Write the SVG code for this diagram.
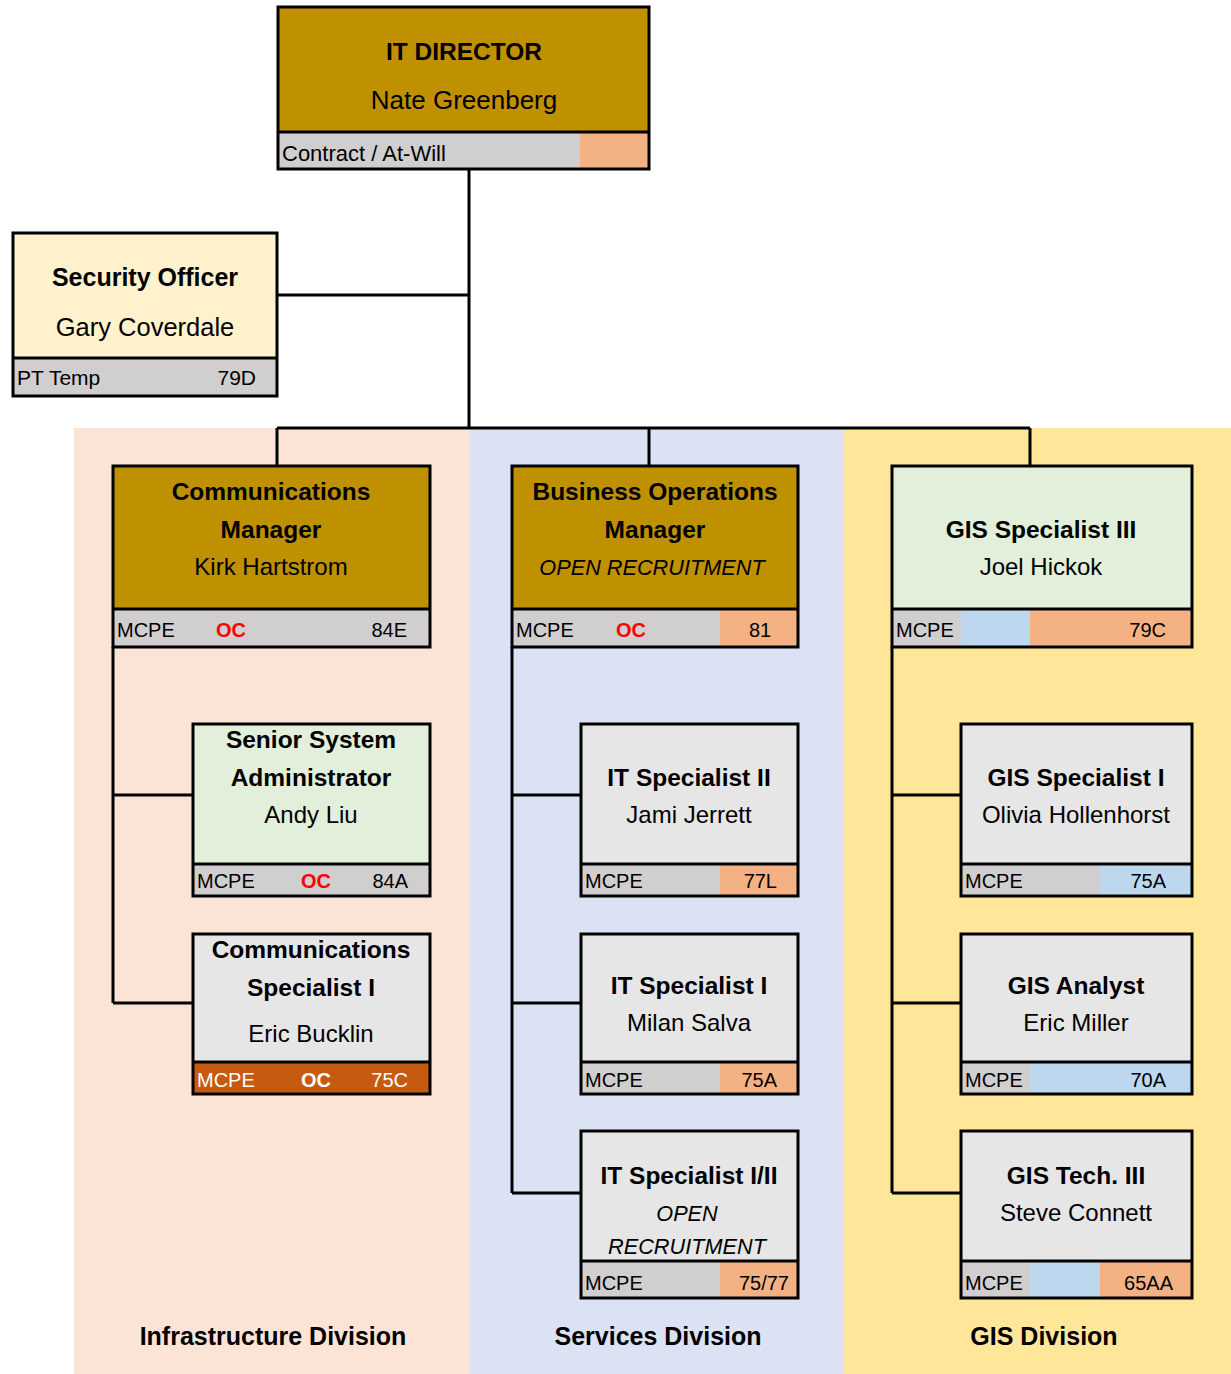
<svg xmlns="http://www.w3.org/2000/svg" width="1231" height="1374" viewBox="0 0 1231 1374">
<style>
text{font-family:"Liberation Sans",Arial,sans-serif;fill:#000}
.t{font-weight:bold;font-size:24.5px;text-anchor:middle}
.n{font-size:24px;text-anchor:middle}
.i{font-size:21.7px;text-anchor:middle;font-style:italic}
.s{font-size:20px}
.r{text-anchor:end}
.oc{font-weight:bold;font-size:20px;fill:#ff0000;text-anchor:middle}
.w{fill:#fff}
.ol{fill:none;stroke:#000;stroke-width:3}
.dv{stroke:#000;stroke-width:3}
.c{stroke:#000;stroke-width:3;fill:none}
.gold{fill:#bf9000}.grn{fill:#e2efda}.lg{fill:#e7e6e6}.crm{fill:#fff2cc}
.gs{fill:#d0cece}.or{fill:#f4b183}.bl{fill:#bdd7ee}.br{fill:#c55a11}
.div{font-weight:bold;font-size:25px;text-anchor:middle}
</style>
<g id="panels">
<rect x="74" y="428" width="396" height="946" fill="#fbe4d6"/>
<rect x="470" y="428" width="373" height="946" fill="#dae2f3"/>
<rect x="843" y="428" width="388" height="946" fill="#ffe699"/>
<text class="div" x="273" y="1345">Infrastructure Division</text>
<text class="div" x="658" y="1345">Services Division</text>
<text class="div" x="1044" y="1345">GIS Division</text>
</g>
<g id="connectors">
<path class="c" d="M469 169V428M277 295H469M277 428H1030M277 428V466M649 428V466M1030 428V466"/>
<path class="c" d="M113 647V1003M113 795H193M113 1003H193"/>
<path class="c" d="M512 647V1193M512 795H581M512 1003H581M512 1193H581"/>
<path class="c" d="M892 647V1193M892 795H961M892 1003H961M892 1193H961"/>
</g>
<g id="it-director">
<rect class="gold" x="278" y="7" width="371" height="162"/>
<rect class="gs" x="278" y="132" width="371" height="37"/>
<rect class="or" x="580" y="132" width="69" height="37"/>
<line class="dv" x1="278" y1="132" x2="649" y2="132"/>
<rect class="ol" x="278" y="7" width="371" height="162"/>
<text class="t" x="464" y="60">IT DIRECTOR</text>
<text class="n" x="464" y="109" style="font-size:26px">Nate Greenberg</text>
<text class="s" x="282" y="161" style="font-size:22px">Contract / At-Will</text>
</g>
<g id="security-officer">
<rect class="crm" x="13" y="233" width="264" height="163"/>
<rect class="gs" x="13" y="358" width="264" height="38"/>
<line class="dv" x1="13" y1="358" x2="277" y2="358"/>
<rect class="ol" x="13" y="233" width="264" height="163"/>
<text class="t" x="145" y="286" style="font-size:25px">Security Officer</text>
<text class="n" x="145" y="336" style="font-size:25.5px">Gary Coverdale</text>
<text class="s" x="17" y="385" style="font-size:21px">PT Temp</text>
<text class="s r" x="256" y="385" style="font-size:21px">79D</text>
</g>
<g id="communications-manager">
<rect class="gold" x="113" y="466" width="317" height="181"/>
<rect class="gs" x="113" y="609" width="317" height="38"/>
<line class="dv" x1="113" y1="609" x2="430" y2="609"/>
<rect class="ol" x="113" y="466" width="317" height="181"/>
<text class="t" x="271" y="500">Communications</text>
<text class="t" x="271" y="538">Manager</text>
<text class="n" x="271" y="575">Kirk Hartstrom</text>
<text class="s" x="117" y="637">MCPE</text>
<text class="oc" x="231" y="637">OC</text>
<text class="s r" x="407" y="637">84E</text>
</g>
<g id="business-operations-manager">
<rect class="gold" x="512" y="466" width="286" height="181"/>
<rect class="gs" x="512" y="609" width="286" height="38"/>
<rect class="or" x="720" y="609" width="78" height="38"/>
<line class="dv" x1="512" y1="609" x2="798" y2="609"/>
<rect class="ol" x="512" y="466" width="286" height="181"/>
<text class="t" x="655" y="500">Business Operations</text>
<text class="t" x="655" y="538">Manager</text>
<text class="i" x="652" y="575">OPEN RECRUITMENT</text>
<text class="s" x="516" y="637">MCPE</text>
<text class="oc" x="631" y="637">OC</text>
<text class="s" x="760" y="637" text-anchor="middle">81</text>
</g>
<g id="gis-specialist-iii">
<rect class="grn" x="892" y="466" width="300" height="181"/>
<rect class="gs" x="892" y="609" width="300" height="38"/>
<rect class="bl" x="961" y="609" width="69" height="38"/>
<rect class="or" x="1030" y="609" width="162" height="38"/>
<line class="dv" x1="892" y1="609" x2="1192" y2="609"/>
<rect class="ol" x="892" y="466" width="300" height="181"/>
<text class="t" x="1041" y="538">GIS Specialist III</text>
<text class="n" x="1041" y="575">Joel Hickok</text>
<text class="s" x="896" y="637">MCPE</text>
<text class="s r" x="1166" y="637">79C</text>
</g>
<g id="senior-system-administrator">
<rect class="grn" x="193" y="724" width="237" height="172"/>
<rect class="gs" x="193" y="864" width="237" height="32"/>
<line class="dv" x1="193" y1="864" x2="430" y2="864"/>
<rect class="ol" x="193" y="724" width="237" height="172"/>
<text class="t" x="311" y="748">Senior System</text>
<text class="t" x="311" y="786">Administrator</text>
<text class="n" x="311" y="823">Andy Liu</text>
<text class="s" x="197" y="888">MCPE</text>
<text class="oc" x="316" y="888">OC</text>
<text class="s r" x="408" y="888">84A</text>
</g>
<g id="communications-specialist-i">
<rect class="lg" x="193" y="934" width="237" height="160"/>
<rect class="br" x="193" y="1062" width="237" height="32"/>
<line class="dv" x1="193" y1="1062" x2="430" y2="1062"/>
<rect class="ol" x="193" y="934" width="237" height="160"/>
<text class="t" x="311" y="958">Communications</text>
<text class="t" x="311" y="996">Specialist I</text>
<text class="n" x="311" y="1042">Eric Bucklin</text>
<text class="s w" x="197" y="1087">MCPE</text>
<text class="oc w" x="316" y="1087">OC</text>
<text class="s r w" x="408" y="1087">75C</text>
</g>
<g id="it-specialist-ii">
<rect class="lg" x="581" y="724" width="217" height="172"/>
<rect class="gs" x="581" y="864" width="217" height="32"/>
<rect class="or" x="720" y="864" width="78" height="32"/>
<line class="dv" x1="581" y1="864" x2="798" y2="864"/>
<rect class="ol" x="581" y="724" width="217" height="172"/>
<text class="t" x="689" y="786">IT Specialist II</text>
<text class="n" x="689" y="823">Jami Jerrett</text>
<text class="s" x="585" y="888">MCPE</text>
<text class="s r" x="777" y="888">77L</text>
</g>
<g id="it-specialist-i">
<rect class="lg" x="581" y="934" width="217" height="160"/>
<rect class="gs" x="581" y="1062" width="217" height="32"/>
<rect class="or" x="720" y="1062" width="78" height="32"/>
<line class="dv" x1="581" y1="1062" x2="798" y2="1062"/>
<rect class="ol" x="581" y="934" width="217" height="160"/>
<text class="t" x="689" y="994">IT Specialist I</text>
<text class="n" x="689" y="1031">Milan Salva</text>
<text class="s" x="585" y="1087">MCPE</text>
<text class="s r" x="777" y="1087">75A</text>
</g>
<g id="it-specialist-i-ii">
<rect class="lg" x="581" y="1131" width="217" height="167"/>
<rect class="gs" x="581" y="1261" width="217" height="37"/>
<rect class="or" x="720" y="1261" width="78" height="37"/>
<line class="dv" x1="581" y1="1261" x2="798" y2="1261"/>
<rect class="ol" x="581" y="1131" width="217" height="167"/>
<text class="t" x="689" y="1184">IT Specialist I/II</text>
<text class="i" x="687" y="1221">OPEN</text>
<text class="i" x="687" y="1254">RECRUITMENT</text>
<text class="s" x="585" y="1290">MCPE</text>
<text class="s r" x="789" y="1290">75/77</text>
</g>
<g id="gis-specialist-i">
<rect class="lg" x="961" y="724" width="231" height="172"/>
<rect class="gs" x="961" y="864" width="231" height="32"/>
<rect class="bl" x="1100" y="864" width="92" height="32"/>
<line class="dv" x1="961" y1="864" x2="1192" y2="864"/>
<rect class="ol" x="961" y="724" width="231" height="172"/>
<text class="t" x="1076" y="786">GIS Specialist I</text>
<text class="n" x="1076" y="823">Olivia Hollenhorst</text>
<text class="s" x="965" y="888">MCPE</text>
<text class="s r" x="1166" y="888">75A</text>
</g>
<g id="gis-analyst">
<rect class="lg" x="961" y="934" width="231" height="160"/>
<rect class="gs" x="961" y="1062" width="231" height="32"/>
<rect class="bl" x="1030" y="1062" width="162" height="32"/>
<line class="dv" x1="961" y1="1062" x2="1192" y2="1062"/>
<rect class="ol" x="961" y="934" width="231" height="160"/>
<text class="t" x="1076" y="994">GIS Analyst</text>
<text class="n" x="1076" y="1031">Eric Miller</text>
<text class="s" x="965" y="1087">MCPE</text>
<text class="s r" x="1166" y="1087">70A</text>
</g>
<g id="gis-tech-iii">
<rect class="lg" x="961" y="1131" width="231" height="167"/>
<rect class="gs" x="961" y="1261" width="231" height="37"/>
<rect class="bl" x="1030" y="1261" width="70" height="37"/>
<rect class="or" x="1100" y="1261" width="92" height="37"/>
<line class="dv" x1="961" y1="1261" x2="1192" y2="1261"/>
<rect class="ol" x="961" y="1131" width="231" height="167"/>
<text class="t" x="1076" y="1184">GIS Tech. III</text>
<text class="n" x="1076" y="1221">Steve Connett</text>
<text class="s" x="965" y="1290">MCPE</text>
<text class="s r" x="1173" y="1290">65AA</text>
</g>
</svg>
